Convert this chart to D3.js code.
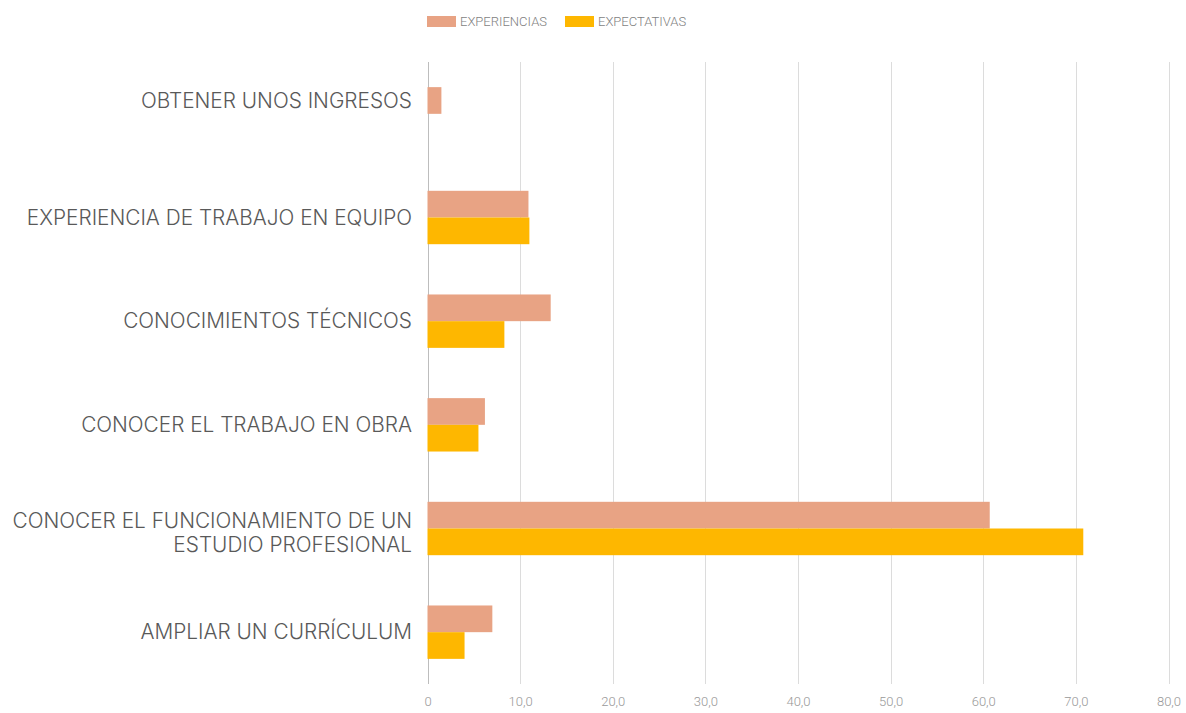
<!DOCTYPE html>
<html>
<head>
<meta charset="utf-8">
<script src="https://cdn.jsdelivr.net/npm/d3@7"></script>
<style>
  body { margin: 0; background: #fff; }
  svg { display: block; font-family: Roboto, "Noto Sans", sans-serif; }
</style>
</head>
<body>
<svg id="chart" width="1186" height="713"></svg>
<script>
// data
var categories = [
    "OBTENER UNOS INGRESOS",
    "EXPERIENCIA DE TRABAJO EN EQUIPO",
    "CONOCIMIENTOS TÉCNICOS",
    "CONOCER EL TRABAJO EN OBRA",
    "CONOCER EL FUNCIONAMIENTO DE UN|ESTUDIO PROFESIONAL",
    "AMPLIAR UN CURRÍCULUM"
];
var seriesNames = ["EXPERIENCIAS", "EXPECTATIVAS"];
var experiencias = [1.5, 10.9, 13.3, 6.2, 60.7, 7.0];
var expectativas = [null, 11.0, 8.3, 5.5, 70.8, 4.0];
var seriesColors = ["#e8a384", "#feb700"];
var tickValues = [0, 10, 20, 30, 40, 50, 60, 70, 80];

var series = [experiencias, expectativas];

var svg = d3.select("#chart");
var plotLeft = 427.5, plotRight = 1168.5, plotTop = 62, plotBottom = 684;

var x = d3.scaleLinear().domain([0, 80]).range([plotLeft, plotRight]);
var y = d3.scaleBand().domain(d3.range(categories.length))
    .range([plotTop, plotBottom]).paddingInner(0.485).paddingOuter(0.2425);
var ySub = d3.scaleBand().domain(d3.range(series.length))
    .range([0, y.bandwidth()]);

var locale = d3.formatLocale({decimal: ",", thousands: ".", grouping: [3], currency: ["", "€"]});
var fmt = locale.format(".1f");

//////////////////////////////////////////////////////////////////////////////
// grid and axis

svg.append("g").selectAll("line")
    .data(tickValues)
    .join("line")
    .attr("x1", function(d) { return Math.round(x(d)) + 0.5; })
    .attr("x2", function(d) { return Math.round(x(d)) + 0.5; })
    .attr("y1", plotTop)
    .attr("y2", plotBottom)
    .attr("stroke", function(d) { return d === 0 ? "#bdbdbd" : "#dcdcdc"; })
    .attr("stroke-width", 1);

var xAxis = d3.axisBottom(x)
    .tickValues(tickValues)
    .tickSize(0)
    .tickPadding(0)
    .tickFormat(function(d) { return d === 0 ? "0" : fmt(d); });

svg.append("g")
    .attr("transform", "translate(0," + 697 + ")")
    .call(xAxis)
    .call(function(g) { g.select(".domain").remove(); })
    .selectAll("text")
    .attr("fill", "#999")
    .attr("font-size", 13)
    .attr("font-family", "Roboto, sans-serif")
    .attr("font-weight", 300);

//////////////////////////////////////////////////////////////////////////////
// bars

series.forEach(function(values, si) {
    svg.append("g")
        .selectAll("rect")
        .data(values.map(function(v, i) { return {i: i, v: v}; })
            .filter(function(d) { return d.v != null; }))
        .join("rect")
        .attr("x", x(0))
        .attr("y", function(d) { return y(d.i) + ySub(si); })
        .attr("width", function(d) { return x(d.v) - x(0); })
        .attr("height", ySub.bandwidth())
        .attr("fill", seriesColors[si]);
});

//////////////////////////////////////////////////////////////////////////////
// category labels, centred on the bars that exist

var labels = svg.append("g")
    .selectAll("text")
    .data(categories)
    .join("text")
    .attr("text-anchor", "end")
    .attr("font-family", "Inter, Roboto, sans-serif")
    .attr("font-size", 20.8)
    .attr("font-weight", 300)
    .attr("fill", "#595959")
    .attr("transform", function(d, i) {
        var centres = [];
        series.forEach(function(values, si) {
            if (values[i] != null)
                centres.push(y(i) + ySub(si) + ySub.bandwidth() / 2);
        });
        return "translate(412," + d3.mean(centres) + ")";
    });

labels.each(function(d) {
    var lines = d.split("|");
    var t = d3.select(this);
    lines.forEach(function(line, k) {
        t.append("tspan")
            .attr("x", 0)
            .attr("y", (k - (lines.length - 1) / 2) * 23.5 + (lines.length - 1) * 4)
            .attr("dy", "0.35em")
            .text(line);
    });
});

//////////////////////////////////////////////////////////////////////////////
// legend

var legend = svg.append("g").attr("transform", "translate(427,16)");
var legendOffsets = [0, 138];
seriesNames.forEach(function(name, si) {
    var item = legend.append("g").attr("transform", "translate(" + legendOffsets[si] + ",0)");
    item.append("rect")
        .attr("width", 29)
        .attr("height", 11)
        .attr("fill", seriesColors[si]);
    item.append("text")
        .attr("x", 33)
        .attr("y", 5.5)
        .attr("dy", "0.35em")
        .attr("font-size", 13)
        .attr("font-weight", 300)
        .attr("fill", "#7f7f7f")
        .text(name);
});
</script>
</body>
</html>
